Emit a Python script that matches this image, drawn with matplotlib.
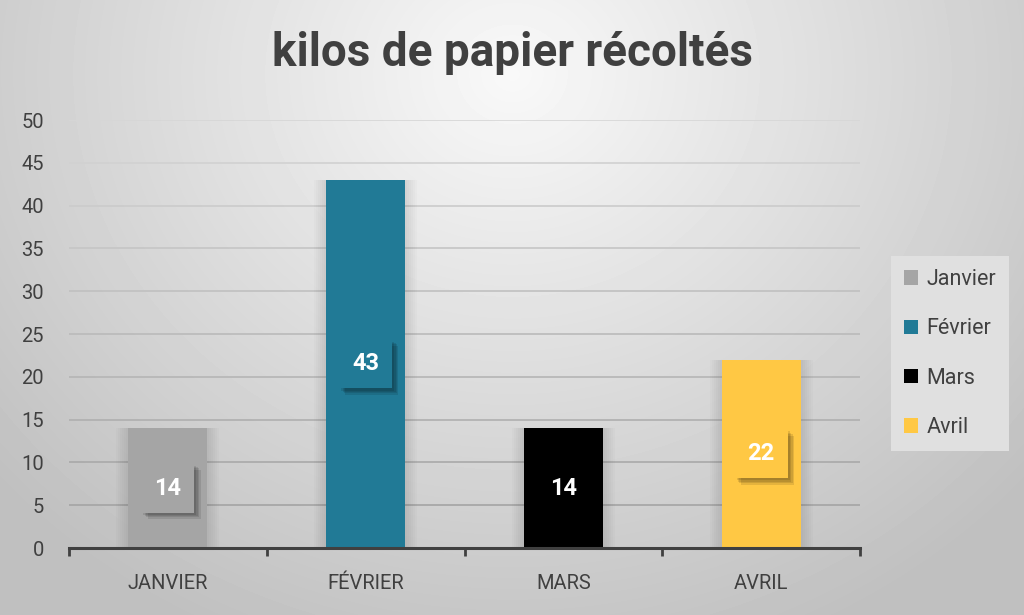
import matplotlib
matplotlib.use("Agg")
import matplotlib.pyplot as plt
import matplotlib.patheffects as pe
from matplotlib.patches import Patch
import numpy as np

plt.rcParams["font.family"] = ["Roboto", "DejaVu Sans"]

# Data
months = ["Janvier", "Février", "Mars", "Avril"]
tick_labels = ["JANVIER", "FÉVRIER", "MARS", "AVRIL"]
kilos = [14, 43, 14, 22]
bar_colors = ["#A5A5A5", "#217A96", "#000000", "#FFC844"]
yticks = list(range(0, 55, 5))

TXT = "#404040"

fig = plt.figure(figsize=(10.24, 6.15), dpi=100)

# ── Background: radial grey gradient ────────────────────────────────
bg = fig.add_axes([0, 0, 1, 1], zorder=-10)
h, w = 615, 1024
yy, xx = np.mgrid[0:h, 0:w]
d = np.sqrt(((xx / w - 0.5) / 0.6) ** 2 + ((yy / h - 0.12) / 0.9) ** 2)
shade = np.clip(0.975 - 0.2 * d, 0.75, 1.0)
bg.imshow(shade, cmap="gray", vmin=0, vmax=1, aspect="auto",
          extent=[0, 1, 0, 1], interpolation="bilinear")
bg.set_xlim(0, 1)
bg.set_ylim(0, 1)
bg.axis("off")

# ── Plot area ───────────────────────────────────────────────────────
ax = fig.add_axes([69 / 1024, 1 - 548 / 615, 791 / 1024, 428 / 615])
ax.patch.set_alpha(0)

x = np.arange(len(months))

# soft glow at the sides of the bars
for k in range(1, 7):
    ax.bar(x, kilos, width=0.4 + 0.02 * k,
           color="black", alpha=0.015, zorder=2, linewidth=0)
bars = ax.bar(x, kilos, width=0.4, color=bar_colors, zorder=3)

# gridlines, darker toward the bottom
for v in yticks[1:]:
    g = 0.62 + 0.22 * v / 50
    ax.axhline(v, color=(g, g, g), linewidth=1.2, zorder=1)

ax.set_xlim(-0.5, len(months) - 0.5)
ax.set_ylim(0, 50)
ax.set_yticks(yticks)
ax.set_xticks(x)
ax.set_xticklabels(tick_labels)
ax.set_xticks(np.arange(-0.5, len(months), 1.0), minor=True)
ax.tick_params(axis="x", which="major", length=0, pad=19, labelsize=14.5, labelcolor=TXT)
ax.tick_params(axis="x", which="minor", length=6, width=2, color=TXT, direction="out")
ax.tick_params(axis="y", length=0, pad=18, labelsize=14.5, labelcolor=TXT)
for s in ["top", "right", "left"]:
    ax.spines[s].set_visible(False)
ax.spines["bottom"].set_color(TXT)
ax.spines["bottom"].set_linewidth(2.2)
ax.spines["bottom"].set_zorder(4)

# Data labels in coloured boxes with a soft drop shadow
shadow = [pe.SimplePatchShadow(offset=(o, -o), shadow_rgbFace="black", alpha=0.1)
          for o in (4.5, 3.5, 2.5, 1.5)]
for xi, val, c in zip(x, kilos, bar_colors):
    t = ax.text(xi, val / 2, str(val), ha="center", va="center", color="white",
                fontsize=17, fontweight="bold", zorder=5,
                bbox=dict(boxstyle="square,pad=0.55", facecolor=c, edgecolor="none"))
    t.get_bbox_patch().set_path_effects(shadow + [pe.Normal()])

# Title
fig.text(0.5, 1 - 53 / 615, "kilos de papier récoltés", ha="center", va="center",
         fontsize=33, fontweight="bold", color=TXT)

# Legend
handles = [Patch(facecolor=c, edgecolor="none", label=m) for m, c in zip(months, bar_colors)]
leg = fig.legend(handles=handles, loc="upper left", bbox_to_anchor=(891 / 1024, 1 - 256 / 615),
                 frameon=True, fontsize=15.5, labelcolor=TXT, handlelength=0.65,
                 handleheight=0.65, handletextpad=0.4, labelspacing=1.32,
                 borderpad=0.6, borderaxespad=0, fancybox=False)
leg.get_frame().set_facecolor("#E0E0E0")
leg.get_frame().set_edgecolor("none")
leg.get_frame().set_alpha(1)

fig.savefig("out.png", dpi=100)
